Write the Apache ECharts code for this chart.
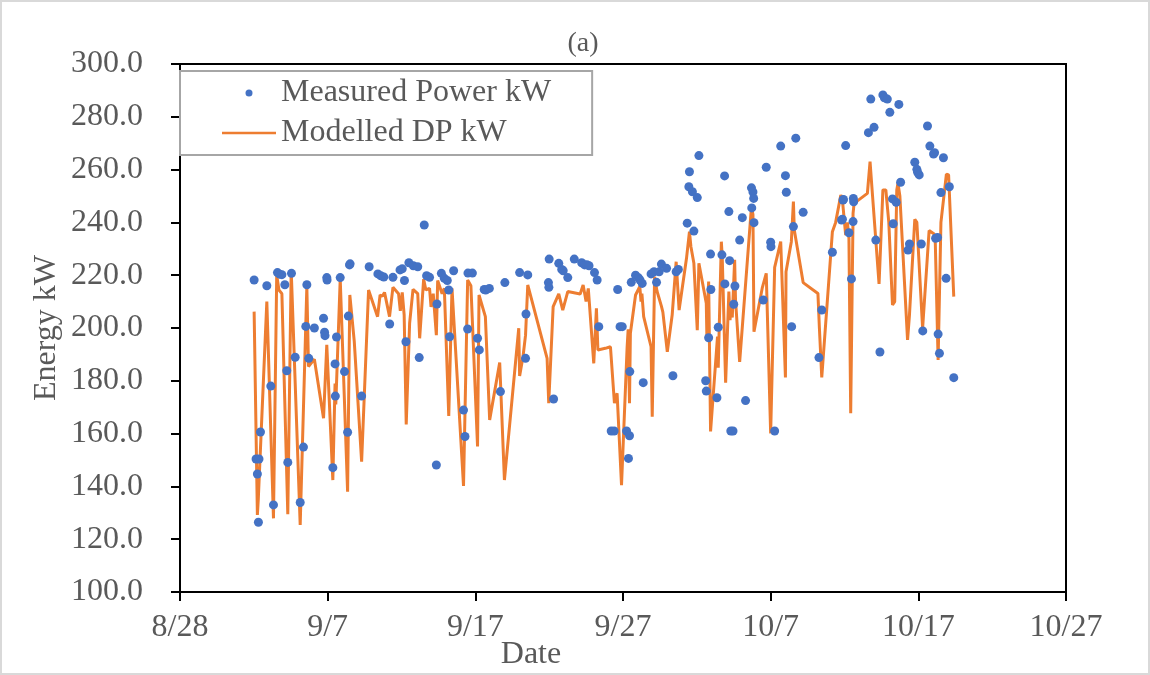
<!DOCTYPE html>
<html>
<head>
<meta charset="utf-8">
<script src="https://cdn.jsdelivr.net/npm/echarts@6/dist/echarts.min.js"></script>
<style>
html,body{margin:0;padding:0;background:#fff;}
#chart{width:1150px;height:675px;}
</style>
</head>
<body>
<div id="chart"></div>
<script>
// x values: days since 8/28
const xTickLabels = ['8/28','9/7','9/17','9/27','10/7','10/17','10/27'];
const seriesNames = ['Measured Power kW', 'Modelled DP kW'];

const measuredDays = [5.02,5.15,5.24,5.31,5.35,5.45,5.88,6.15,6.33,6.60,6.75,6.90,7.10,7.23,7.30,7.55,7.80,8.14,8.36,8.52,8.59,8.72,9.10,9.72,9.79,9.82,9.94,9.96,10.35,10.50,10.52,10.60,10.85,11.14,11.35,11.40,11.48,11.52,12.30,12.81,13.40,13.60,13.80,14.20,14.42,14.90,15.05,15.20,15.30,15.50,15.80,16.10,16.20,16.54,16.70,16.90,17.36,17.40,17.70,17.90,18.10,18.20,18.26,18.53,19.20,19.30,19.48,19.50,19.80,20.15,20.27,20.60,20.70,20.95,21.70,22.00,23.00,23.40,23.43,23.55,24.95,24.98,25.00,25.30,25.65,25.85,25.95,26.26,26.70,27.20,27.40,27.55,27.70,28.07,28.25,28.36,29.20,29.40,29.64,29.80,29.95,30.24,30.37,30.44,30.46,30.56,30.85,31.05,31.15,31.30,31.37,31.90,32.10,32.27,32.45,32.60,32.95,33.38,33.60,33.75,34.35,34.46,34.50,34.70,34.80,35.03,35.14,35.60,35.64,35.80,35.93,35.95,36.36,36.45,36.70,36.88,36.90,37.17,37.22,37.30,37.45,37.50,37.58,37.90,38.08,38.30,38.70,38.72,38.80,38.85,38.87,39.50,39.70,40.00,40.02,40.27,40.68,41.00,41.06,41.42,41.54,41.70,42.20,43.27,43.46,44.18,44.80,44.86,44.90,44.93,45.08,45.30,45.47,45.58,45.60,45.62,46.62,46.78,47.00,47.12,47.40,47.60,47.70,47.90,48.07,48.25,48.30,48.50,48.68,48.80,49.30,49.40,49.76,49.90,49.95,50.06,50.20,50.30,50.62,50.78,51.03,51.10,51.17,51.30,51.34,51.43,51.53,51.70,51.88,52.10,52.40];
const measuredKW = [218.2,150.4,144.7,126.4,150.4,160.6,216.0,178.0,133.0,221.0,220.4,220.2,216.4,183.8,149.1,220.7,188.9,133.9,154.9,200.6,216.4,188.5,200.0,203.7,198.4,197.1,219.1,218.2,147.1,186.4,174.2,196.6,219.1,183.5,160.5,204.5,223.9,224.3,174.2,223.2,220.5,219.8,219.3,201.5,219.2,222.0,222.4,218.0,194.8,224.7,223.6,223.2,188.8,239.0,219.8,219.2,148.1,209.1,220.7,218.8,218.0,214.4,196.7,221.7,168.9,158.9,199.6,220.8,220.8,196.1,191.7,214.6,214.4,215.0,175.9,217.2,221.0,188.5,205.3,220.1,217.2,215.4,226.1,173.1,224.5,222.2,221.7,219.1,226.1,224.7,223.9,224.0,223.6,221.0,218.2,200.5,161.0,161.0,214.6,200.5,200.5,161.0,150.6,159.2,183.5,217.3,220.0,219.0,218.2,216.9,179.3,220.5,221.3,217.3,221.3,224.2,222.6,181.9,221.3,222.2,239.7,253.5,259.2,251.6,236.7,249.4,265.3,180.0,176.1,196.3,228.0,214.6,173.6,200.3,227.7,257.6,216.7,244.1,225.5,161.0,161.0,209.0,215.9,233.3,241.8,172.5,253.1,245.5,251.5,249.1,239.9,210.6,260.9,232.5,230.8,161.0,268.9,257.7,251.4,200.5,238.4,271.9,243.8,188.8,206.8,228.7,240.9,241.2,248.5,248.7,269.1,236.1,218.6,240.3,249.1,247.8,274.0,286.7,276.0,233.3,190.9,288.3,287.2,286.7,281.7,248.9,239.5,247.6,284.7,255.2,229.5,231.8,262.8,260.1,259.0,258.0,231.8,198.9,276.5,268.9,265.9,266.4,234.0,234.3,197.7,190.4,251.3,264.5,218.8,253.5,181.2];

const modelDays = [5.02,5.24,5.30,5.88,6.33,6.55,6.70,6.90,7.30,7.53,8.14,8.59,8.70,9.10,9.72,9.94,10.35,10.50,10.55,10.85,11.35,11.50,11.80,12.30,12.77,13.38,13.55,13.70,13.85,14.19,14.42,14.80,14.92,15.05,15.18,15.32,15.55,15.78,16.10,16.23,16.50,16.65,16.90,17.00,17.15,17.36,17.45,17.75,17.90,18.20,18.42,19.20,19.48,19.70,20.15,20.25,20.35,20.68,20.97,21.65,21.97,22.94,23.00,23.23,23.40,23.55,24.86,24.97,25.27,25.65,25.92,26.26,27.10,27.30,27.50,27.65,28.02,28.20,28.30,28.80,29.15,29.42,29.60,29.90,30.28,30.35,30.44,30.50,30.85,31.14,31.22,31.28,31.40,31.90,31.98,32.14,32.30,32.60,32.70,33.00,33.33,33.60,33.80,34.30,34.40,34.50,34.60,34.80,35.03,35.14,35.64,35.68,35.72,35.80,35.93,36.40,36.45,36.66,36.72,36.95,37.17,37.25,37.30,37.40,37.56,37.62,37.90,38.70,38.80,38.87,39.44,39.70,40.00,40.27,40.68,41.00,41.04,41.40,41.54,41.60,42.20,43.20,43.30,43.46,44.18,44.40,44.75,44.85,45.08,45.20,45.30,45.42,45.58,45.65,46.55,46.73,46.90,47.34,47.60,47.80,48.00,48.25,48.40,48.54,48.62,48.75,49.27,49.40,49.76,49.90,50.00,50.29,50.73,51.07,51.15,51.34,51.53,51.90,52.05,52.40];
const modelKW = [206.2,129.2,135.0,210.0,127.9,220.1,214.4,213.0,129.5,222.0,125.4,215.7,185.4,188.2,165.8,193.6,142.4,179.0,171.0,218.5,138.0,212.5,195.0,149.4,214.4,204.3,212.5,212.0,213.5,204.3,215.4,213.0,206.5,213.5,205.0,163.5,201.8,214.6,213.0,196.1,218.5,214.4,215.0,208.0,213.0,197.3,218.0,213.0,215.0,166.7,215.0,140.2,218.2,216.0,155.1,212.5,211.9,204.3,165.2,186.9,142.4,199.9,181.8,189.2,197.3,216.3,188.5,171.5,208.1,212.9,206.8,213.8,212.9,216.3,210.0,215.0,186.6,207.5,191.7,192.3,192.9,171.5,175.3,140.5,192.9,199.5,171.5,198.0,212.5,215.7,210.0,213.0,204.3,192.9,166.4,219.4,214.0,208.3,206.0,191.0,204.9,225.1,206.8,226.4,227.0,236.5,230.8,224.5,199.2,224.5,209.4,197.0,206.0,217.6,160.8,196.7,185.0,232.7,227.0,179.3,213.8,203.0,208.0,204.0,225.8,210.6,187.2,246.0,243.0,198.6,215.4,220.7,160.1,223.0,232.7,181.3,221.3,232.7,247.9,237.1,217.2,213.1,200.0,181.3,236.5,240.0,250.4,249.0,235.2,240.0,234.0,167.7,243.4,247.2,251.0,263.0,250.0,216.7,252.3,252.3,240.0,208.7,210.0,252.3,254.8,250.0,195.5,205.0,241.2,240.0,240.5,199.9,236.9,235.6,232.0,187.9,240.0,258.3,258.0,211.9];

const FONT = '"Liberation Serif", "Times New Roman", serif';
const GRAY = '#595959';
const FS = 32;

const chart = echarts.init(document.getElementById('chart'), null, {renderer: 'canvas'});
chart.setOption({
  backgroundColor: '#ffffff',
  animation: false,
  grid: {left: 180, right: 84, top: 64, bottom: 83, show: true, borderColor: '#000', borderWidth: 2, backgroundColor: 'transparent'},
  legend: {
    data: [
      {name: seriesNames[0], icon: 'circle'},
      {name: seriesNames[1], icon: 'path://M0 0H60V3H0Z'}
    ],
    orient: 'vertical',
    left: 180, top: 71,
    padding: [6, 41, 6, 42],
    itemGap: 8,
    itemWidth: 54,
    itemHeight: 7,
    backgroundColor: '#fff',
    borderColor: '#a6a6a6',
    borderWidth: 2,
    textStyle: {fontFamily: FONT, fontSize: FS, color: GRAY}
  },
  xAxis: {
    type: 'value', min: 0, max: 60, interval: 10,
    axisLine: {show: true, lineStyle: {color: '#000', width: 2}},
    axisTick: {show: true, length: 9, lineStyle: {color: '#000', width: 2}},
    splitLine: {show: false},
    axisLabel: {fontFamily: FONT, fontSize: FS, color: GRAY, margin: 20,
      formatter: v => xTickLabels[Math.round(v / 10)]}
  },
  yAxis: {
    type: 'value', min: 100, max: 300, interval: 20,
    axisLine: {show: true, lineStyle: {color: '#000', width: 2}},
    axisTick: {show: true, length: 9, lineStyle: {color: '#000', width: 2}},
    splitLine: {show: false},
    axisLabel: {fontFamily: FONT, fontSize: FS, color: GRAY, margin: 37,
      formatter: v => v.toFixed(1)}
  },
  graphic: [
    {type: 'rect', shape: {x: 1, y: 1, width: 1148, height: 673}, style: {fill: 'none', stroke: '#d9d9d9', lineWidth: 2}, silent: true, z: -10},
    {type: 'text', x: 583, y: 44, style: {text: '(a)', font: '28px ' + FONT, fill: GRAY, textAlign: 'center', textVerticalAlign: 'middle'}},
    {type: 'text', x: 531, y: 655, style: {text: 'Date', font: FS + 'px ' + FONT, fill: GRAY, textAlign: 'center', textVerticalAlign: 'middle'}},
    {type: 'text', x: 47, y: 328, rotation: Math.PI / 2, style: {text: 'Energy kW', font: FS + 'px ' + FONT, fill: GRAY, textAlign: 'center', textVerticalAlign: 'middle'}}
  ],
  series: [
    {
      name: seriesNames[0], type: 'scatter', z: 3,
      symbol: 'circle', symbolSize: 9,
      itemStyle: {color: '#4472C4', opacity: 1},
      data: measuredDays.map((d, i) => [d, measuredKW[i]])
    },
    {
      name: seriesNames[1], type: 'line', z: 2,
      symbol: 'none', showSymbol: false,
      lineStyle: {color: '#ED7D31', width: 3},
      itemStyle: {color: '#ED7D31'},
      data: modelDays.map((d, i) => [d, modelKW[i]])
    }
  ]
});
</script>
</body>
</html>
